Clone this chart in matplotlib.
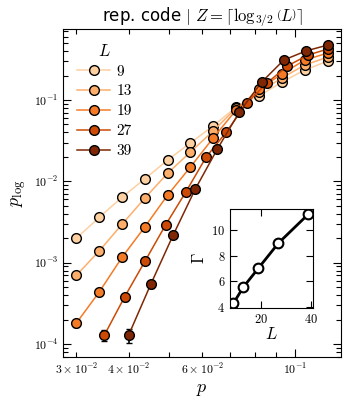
import numpy as np
import matplotlib
matplotlib.use("Agg")
import matplotlib.pyplot as plt
from matplotlib.lines import Line2D

plt.rcParams['font.family'] = 'serif'
plt.rcParams['font.serif'] = ['cmr10', 'DejaVu Serif']
plt.rcParams['mathtext.fontset'] = 'cm'
plt.rcParams['axes.formatter.use_mathtext'] = True

# data
L_values = [9, 13, 19, 27, 39]
p_small = [0.030, 0.034, 0.0386, 0.0437, 0.0496, 0.0562, 0.0637, 0.0723, 0.082, 0.093, 0.1055, 0.120]
p_27 = [0.035, 0.0391, 0.0438, 0.049, 0.0548, 0.0613, 0.0685, 0.0767, 0.0857, 0.0959, 0.1073, 0.120]
p_39 = [0.040, 0.0452, 0.0511, 0.0577, 0.0652, 0.0736, 0.0832, 0.094, 0.1062, 0.120]

plog_9 = [2.0e-3, 3.6e-3, 6.4e-3, 1.07e-2, 1.83e-2, 2.96e-2, 4.8e-2, 8.2e-2, 0.112, 0.166, 0.234, 0.302]
plog_13 = [7.0e-4, 1.39e-3, 2.98e-3, 6.2e-3, 1.26e-2, 2.29e-2, 4.16e-2, 7.97e-2, 0.125, 0.187, 0.269, 0.338]
plog_19 = [1.81e-4, 4.35e-4, 1.17e-3, 2.74e-3, 6.8e-3, 1.50e-2, 3.41e-2, 7.54e-2, 0.136, 0.209, 0.310, 0.379]
plog_27 = [1.29e-4, 3.78e-4, 1.05e-3, 2.90e-3, 7.4e-3, 1.99e-2, 4.04e-2, 9.18e-2, 0.162, 0.262, 0.357, 0.424]
plog_39 = [1.29e-4, 5.46e-4, 2.18e-3, 8.0e-3, 2.50e-2, 7.12e-2, 0.166, 0.310, 0.401, 0.475]

# number of shots per L (sets the error bars)
shots = [1e6, 1e6, 5e5, 3e5, 2e5]

gamma = [4.3, 5.56, 7.03, 8.98, 11.24]

colors = ['#fdd0a2', '#fdae6b', '#f57a26', '#cc4a05', '#7f2704']

p_list = [p_small, p_small, p_small, p_27, p_39]
plog_list = [plog_9, plog_13, plog_19, plog_27, plog_39]

fig = plt.figure(figsize=(3.49, 4.05), dpi=100)
ax = fig.add_axes([0.1805, 0.1185, 0.7966, 0.81])

handles = []
for L, p, y, n, c in zip(L_values, p_list, plog_list, shots, colors):
    y = np.asarray(y)
    err = np.sqrt(y * (1 - y) / n)
    ax.errorbar(p, y, yerr=err, fmt='-o', color=c, lw=1.1, ms=7, mfc=c, mec='k',
                mew=1.0, ecolor='k', elinewidth=1.2, capsize=2.2, capthick=1.2)
    handles.append(Line2D([], [], color=c, lw=1.1, marker='o', ms=7, mfc=c,
                          mec='k', mew=1.0, label=str(L)))

ax.set_xscale('log')
ax.set_yscale('log')
ax.set_xlim(0.02786, 0.1288)
ax.set_ylim(6.92e-5, 0.747)
ax.tick_params(which='both', direction='in', top=True, right=True, labelsize=8.5)
ax.tick_params(which='major', length=6, width=0.8)
ax.tick_params(which='minor', length=3.5, width=0.8)
ax.set_xlabel('$p$', fontsize=13)
ax.set_ylabel(r'$p_{\log}$', fontsize=13)
ax.set_title(r'rep. code $|$ $Z=\lceil\log_{3/2}\left(L\right)\rceil$',
             fontsize=12, family='DejaVu Sans', pad=4)

ax.legend(handles=handles, title='$L$', loc='upper left', frameon=False, fontsize=11,
          title_fontsize=12, handlelength=2.2, labelspacing=0.4,
          handletextpad=0.4, borderaxespad=0.5)

# inset
axin = fig.add_axes([0.659, 0.2395, 0.2378, 0.2444])
axin.plot(L_values, gamma, '-o', color='k', lw=2, ms=7, mfc='white', mec='k', mew=1.5)
axin.set_xlim(7.6, 40.8)
axin.set_ylim(3.92, 11.63)
axin.set_xticks([20, 40])
axin.set_yticks([4, 6, 8, 10])
axin.tick_params(direction='in', top=True, right=True, labelsize=9, length=5, width=0.8)
axin.set_xlabel('$L$', fontsize=12, labelpad=0)
axin.set_ylabel(r'$\Gamma$', fontsize=12, labelpad=3)

fig.savefig('out.png', dpi=100)
